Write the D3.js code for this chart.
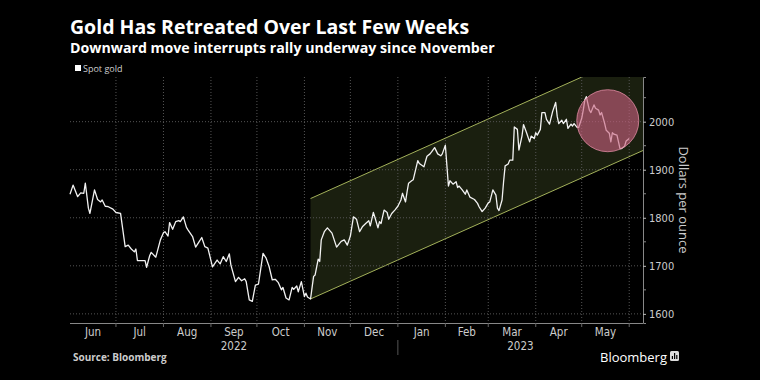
<!DOCTYPE html>
<html>
<head>
<meta charset="utf-8">
<script src="https://cdn.jsdelivr.net/npm/d3@7"></script>
<style>
  html, body { margin: 0; padding: 0; background: #000; }
  svg { display: block; font-family: "Open Sans", "DejaVu Sans", sans-serif; }
</style>
</head>
<body>
<script>
var outerWidth = 760;
var outerHeight = 380;

// spot gold, dollars per ounce
var dates = [
  '2022-06-01','2022-06-03','2022-06-06','2022-06-08','2022-06-10','2022-06-11','2022-06-13','2022-06-14',
  '2022-06-17','2022-06-19','2022-06-21','2022-06-22','2022-06-24','2022-06-26','2022-06-29','2022-07-01',
  '2022-07-04','2022-07-07','2022-07-09','2022-07-11','2022-07-13','2022-07-14','2022-07-15','2022-07-18',
  '2022-07-20','2022-07-21','2022-07-23','2022-07-24','2022-07-27','2022-07-30','2022-08-01','2022-08-02',
  '2022-08-04','2022-08-05','2022-08-07','2022-08-09','2022-08-11','2022-08-12','2022-08-14','2022-08-16',
  '2022-08-17','2022-08-20','2022-08-22','2022-08-24','2022-08-26','2022-08-28','2022-08-30','2022-09-02',
  '2022-09-05','2022-09-07','2022-09-09','2022-09-11','2022-09-13','2022-09-14','2022-09-17','2022-09-19',
  '2022-09-21','2022-09-23','2022-09-24','2022-09-26','2022-09-28','2022-09-30','2022-10-02','2022-10-05',
  '2022-10-07','2022-10-09','2022-10-11','2022-10-13','2022-10-15','2022-10-17','2022-10-18','2022-10-20',
  '2022-10-22','2022-10-24','2022-10-25','2022-10-27','2022-10-28','2022-10-30','2022-11-01','2022-11-02',
  '2022-11-03','2022-11-05','2022-11-07','2022-11-08','2022-11-10','2022-11-11','2022-11-12','2022-11-14',
  '2022-11-16','2022-11-19','2022-11-22','2022-11-25','2022-11-27','2022-11-29','2022-12-01','2022-12-03',
  '2022-12-05','2022-12-07','2022-12-09','2022-12-11','2022-12-13','2022-12-14','2022-12-16','2022-12-17',
  '2022-12-19','2022-12-20','2022-12-21','2022-12-23','2022-12-25','2022-12-26','2022-12-28','2022-12-30',
  '2023-01-01','2023-01-03','2023-01-04','2023-01-06','2023-01-07','2023-01-08','2023-01-10','2023-01-11',
  '2023-01-14','2023-01-15','2023-01-18','2023-01-20','2023-01-22','2023-01-23','2023-01-25','2023-01-27',
  '2023-01-29','2023-01-30','2023-02-01','2023-02-03','2023-02-04','2023-02-06','2023-02-08','2023-02-09',
  '2023-02-10','2023-02-12','2023-02-14','2023-02-15','2023-02-17','2023-02-20','2023-02-22','2023-02-23',
  '2023-02-25','2023-02-27','2023-03-01','2023-03-02','2023-03-04','2023-03-06','2023-03-07','2023-03-08',
  '2023-03-10','2023-03-11','2023-03-12','2023-03-14','2023-03-15','2023-03-17','2023-03-18','2023-03-20',
  '2023-03-21','2023-03-23','2023-03-24','2023-03-26','2023-03-28','2023-03-29','2023-03-31','2023-04-01',
  '2023-04-02','2023-04-04','2023-04-05','2023-04-07','2023-04-08','2023-04-10','2023-04-12','2023-04-14',
  '2023-04-15','2023-04-16','2023-04-18','2023-04-19','2023-04-21','2023-04-22','2023-04-24','2023-04-25',
  '2023-04-26','2023-04-28','2023-04-29','2023-05-01','2023-05-02','2023-05-03','2023-05-04','2023-05-06',
  '2023-05-07','2023-05-09','2023-05-10','2023-05-12','2023-05-13','2023-05-14','2023-05-16','2023-05-17',
  '2023-05-19','2023-05-20','2023-05-21','2023-05-22','2023-05-24','2023-05-25','2023-05-26','2023-05-27',
  '2023-05-29','2023-05-30','2023-06-01'
];
var spotGold = [
  1849,1868,1844,1852,1851,1872,1820,1809,
  1858,1838,1833,1837,1824,1823,1818,1811,
  1809,1740,1743,1735,1729,1735,1711,1711,
  1711,1697,1721,1728,1718,1754,1769,1771,
  1762,1790,1776,1792,1794,1792,1802,1780,
  1775,1761,1739,1749,1759,1740,1737,1698,
  1712,1704,1719,1709,1725,1702,1667,1676,
  1669,1673,1667,1629,1626,1660,1662,1726,
  1716,1698,1671,1672,1665,1650,1655,1633,
  1629,1655,1651,1658,1646,1667,1636,1643,
  1635,1631,1678,1681,1714,1709,1754,1771,
  1779,1768,1739,1751,1754,1743,1762,1802,
  1797,1771,1782,1788,1794,1783,1811,1801,
  1779,1792,1788,1816,1811,1797,1809,1816,
  1824,1837,1851,1833,1854,1872,1877,1879,
  1919,1913,1906,1928,1933,1937,1946,1933,
  1929,1933,1951,1866,1877,1870,1875,1863,
  1866,1858,1849,1858,1843,1838,1830,1823,
  1813,1820,1831,1833,1858,1847,1820,1815,
  1837,1875,1908,1912,1920,1920,1989,1984,
  1941,1970,1994,1977,1958,1970,1965,1977,
  1972,1984,2019,2019,2005,1995,2021,2040,
  2011,1996,2003,1996,2005,1986,1995,1991,
  1996,1988,1988,2007,2024,2045,2052,2024,
  2019,2035,2028,2024,2014,2019,1996,1982,
  1976,1958,1977,1974,1972,1958,1944,1944,
  1949,1960,1965
];

// trend channel drawn on the chart (start / end dates, lower and upper bounds)
var channelDates = ['2022-11-05', '2023-06-10'];
var channelLower = [1631, 1940];
var channelUpper = [1840, 2150];

// highlighted area
var circleDate = '2023-05-18';
var circleValue = 2002;

var yTicks = [1600, 1700, 1800, 1900, 2000];
var yMinorTicks = [1650, 1750, 1850, 1950, 2050];
var monthLabels = ['Jun','Jul','Aug','Sep','Oct','Nov','Dec','Jan','Feb','Mar','Apr','May'];
var yearLabels = ['2022', '2023'];

var parse = d3.timeParse('%Y-%m-%d');
var data = dates.map(function(d, i){ return {date: parse(d), value: spotGold[i]}; });

var margin = {left: 70, right: 117, top: 77, bottom: 57};
var x0 = margin.left, x1 = outerWidth - margin.right;
var y0 = outerHeight - margin.bottom, y1 = margin.top;

var narrow = '"Liberation Sans Narrow", "DejaVu Sans Condensed", sans-serif';

var x = d3.scaleTime()
  .domain([parse('2022-06-01'), parse('2023-06-10')])
  .range([x0, x1]);

var y = d3.scaleLinear()
  .domain([1581, 2093])
  .range([y0, y1]);

var svg = d3.select('body').append('svg')
  .attr('width', outerWidth)
  .attr('height', outerHeight);

svg.append('rect')
  .attr('width', outerWidth)
  .attr('height', outerHeight)
  .attr('fill', '#000');

svg.append('clipPath').attr('id', 'plot-clip')
  .append('rect')
  .attr('x', x0).attr('y', y1)
  .attr('width', x1 - x0).attr('height', y0 - y1);

// titles
svg.append('text')
  .attr('x', 70).attr('y', 33.5)
  .attr('fill', '#fff')
  .style('font-size', '19.5px').style('font-weight', 700)
  .text('Gold Has Retreated Over Last Few Weeks');

svg.append('text')
  .attr('x', 70).attr('y', 52.5)
  .attr('fill', '#fff')
  .style('font-size', '14.2px').style('font-weight', 700)
  .text('Downward move interrupts rally underway since November');

// legend
svg.append('rect')
  .attr('x', 75).attr('y', 65)
  .attr('width', 6).attr('height', 6)
  .attr('fill', '#fff');
svg.append('text')
  .attr('x', 83).attr('y', 71.5)
  .attr('fill', '#ccc')
  .style('font-size', '9px')
  .text('Spot gold');

// channel
var channel = svg.append('g').attr('clip-path', 'url(#plot-clip)');
var cd = channelDates.map(parse);
var poly = [
  [x(cd[0]), y(channelLower[0])],
  [x(cd[1]), y(channelLower[1])],
  [x(cd[1]), y(channelUpper[1])],
  [x(cd[0]), y(channelUpper[0])]
];
channel.append('path')
  .attr('d', 'M' + poly.join('L') + 'Z')
  .attr('fill', '#1a1f0f');

// gridlines
var grid = svg.append('g');
grid.selectAll('.hgrid')
  .data(yTicks)
  .enter()
  .append('line')
  .attr('class', 'hgrid')
  .attr('x1', x0).attr('x2', x1)
  .attr('y1', function(d){ return y(d); })
  .attr('y2', function(d){ return y(d); })
  .attr('stroke', '#555')
  .attr('stroke-dasharray', '1,2');

var monthStarts = d3.timeMonth.range(parse('2022-07-01'), parse('2023-06-02'));
grid.selectAll('.vgrid')
  .data(monthStarts)
  .enter()
  .append('line')
  .attr('class', 'vgrid')
  .attr('x1', function(d){ return x(d); })
  .attr('x2', function(d){ return x(d); })
  .attr('y1', y1).attr('y2', y0)
  .attr('stroke', '#555')
  .attr('stroke-dasharray', '1,2');

// channel edges
channel.append('line')
  .attr('x1', poly[0][0]).attr('y1', poly[0][1])
  .attr('x2', poly[1][0]).attr('y2', poly[1][1])
  .attr('stroke', '#a3b15a').attr('stroke-width', 1);
channel.append('line')
  .attr('x1', poly[3][0]).attr('y1', poly[3][1])
  .attr('x2', poly[2][0]).attr('y2', poly[2][1])
  .attr('stroke', '#a3b15a').attr('stroke-width', 1);

// price line
var line = d3.line()
  .x(function(d){ return x(d.date); })
  .y(function(d){ return y(d.value); });

svg.append('path')
  .datum(data)
  .attr('d', line)
  .attr('fill', 'none')
  .attr('stroke', '#f2f2f2')
  .attr('stroke-width', 1.3)
  .attr('stroke-linejoin', 'round');

// highlight circle
svg.append('circle')
  .attr('cx', x(parse(circleDate)))
  .attr('cy', y(circleValue))
  .attr('r', 31)
  .attr('fill', '#c9617f')
  .attr('fill-opacity', 0.62)
  .attr('stroke', '#e08aa2')
  .attr('stroke-width', 0.8);

// right axis
var yAxis = d3.axisRight(y)
  .tickValues(yTicks)
  .tickFormat(d3.format('d'))
  .tickSize(3)
  .tickPadding(3);

var ya = svg.append('g')
  .attr('transform', 'translate(' + x1 + ',0)')
  .call(yAxis);
ya.select('.domain').attr('stroke', '#888');
ya.selectAll('.tick line').attr('stroke', '#bbb');
ya.selectAll('.tick text')
  .attr('fill', '#ccc')
  .style('font-size', '11px')
  .style('font-family', narrow);

ya.selectAll('.minor')
  .data(yMinorTicks)
  .enter()
  .append('line')
  .attr('class', 'minor')
  .attr('x1', 0).attr('x2', 3)
  .attr('y1', function(d){ return y(d); })
  .attr('y2', function(d){ return y(d); })
  .attr('stroke', '#888');

svg.append('text')
  .attr('transform', 'translate(679,200) rotate(90)')
  .attr('text-anchor', 'middle')
  .attr('fill', '#ccc')
  .style('font-size', '13px')
  .text('Dollars per ounce');

// bottom axis
var xa = svg.append('g');
xa.append('line')
  .attr('x1', x0).attr('x2', x1)
  .attr('y1', y0 + 0.5).attr('y2', y0 + 0.5)
  .attr('stroke', '#888');

xa.selectAll('.xtick')
  .data(monthStarts)
  .enter()
  .append('line')
  .attr('class', 'xtick')
  .attr('x1', function(d){ return x(d); })
  .attr('x2', function(d){ return x(d); })
  .attr('y1', y0).attr('y2', y0 + 4)
  .attr('stroke', '#666');

var monthMids = d3.timeMonth.range(parse('2022-06-01'), parse('2023-06-01')).map(function(d, i){
  var a = Math.max(x(d), x0);
  var b = Math.min(x(d3.timeMonth.offset(d, 1)), x1);
  return {label: monthLabels[i], x: (a + b) / 2};
});

xa.selectAll('.mlabel')
  .data(monthMids)
  .enter()
  .append('text')
  .attr('class', 'mlabel')
  .attr('x', function(d){ return d.x; })
  .attr('y', 336)
  .attr('text-anchor', 'middle')
  .attr('fill', '#ccc')
  .style('font-size', '11.5px')
  .style('font-family', narrow)
  .text(function(d){ return d.label; });

var jan = parse('2023-01-01');
var years = [
  {label: yearLabels[0], x: (x0 + x(jan)) / 2},
  {label: yearLabels[1], x: (x(jan) + x1) / 2}
];
xa.selectAll('.ylabel')
  .data(years)
  .enter()
  .append('text')
  .attr('class', 'ylabel')
  .attr('x', function(d){ return d.x; })
  .attr('y', 350)
  .attr('text-anchor', 'middle')
  .attr('fill', '#ccc')
  .style('font-size', '11.5px')
  .style('font-family', narrow)
  .text(function(d){ return d.label; });

xa.append('line')
  .attr('x1', x(jan)).attr('x2', x(jan))
  .attr('y1', 340).attr('y2', 355)
  .attr('stroke', '#555');

// footer
svg.append('text')
  .attr('x', 73).attr('y', 361)
  .attr('fill', '#ccc')
  .style('font-size', '10px').style('font-weight', 700)
  .text('Source: Bloomberg');

svg.append('text')
  .attr('x', 667).attr('y', 362)
  .attr('text-anchor', 'end')
  .attr('fill', '#fff')
  .style('font-size', '13px')
  .text('Bloomberg');

var logo = svg.append('g').attr('transform', 'translate(670,351)');
logo.append('rect')
  .attr('width', 9).attr('height', 10).attr('rx', 1.5)
  .attr('fill', '#ddd');
logo.selectAll('.bar')
  .data([3, 6, 4])
  .enter()
  .append('rect')
  .attr('x', function(d, i){ return 1.8 + i * 2.2; })
  .attr('y', function(d){ return 8 - d; })
  .attr('width', 1.2)
  .attr('height', function(d){ return d; })
  .attr('fill', '#000');
</script>
</body>
</html>
